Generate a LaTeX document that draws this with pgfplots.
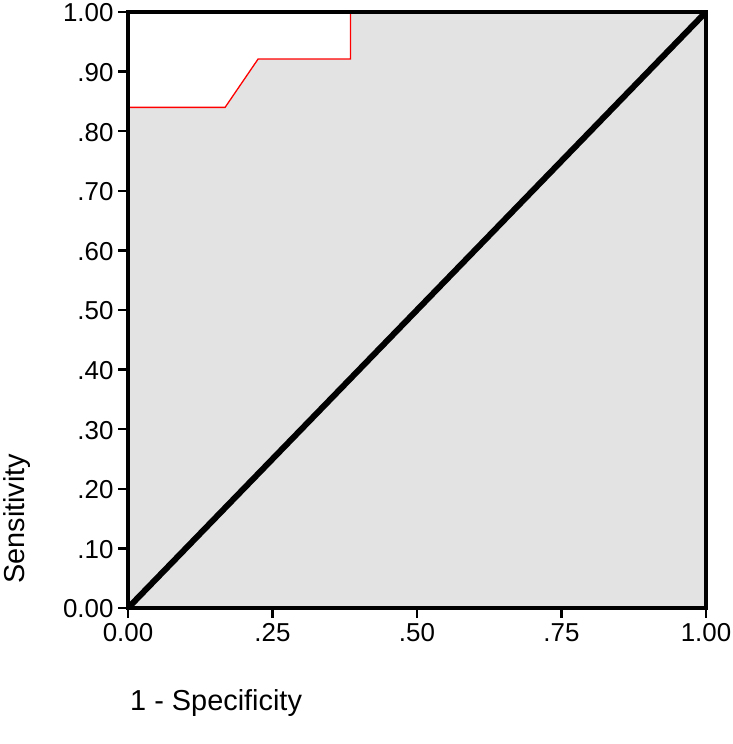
\documentclass[border=0pt]{standalone}
\usepackage{fontspec}
\setmainfont{Liberation Sans}
\usepackage{pgfplots}
\pgfplotsset{compat=1.18}

\begin{document}
\begin{tikzpicture}
\path[use as bounding box] (-128bp,-136bp) rectangle (605bp,608bp);
\begin{axis}[
    scale only axis,
    width=578bp, height=596bp,
    xmin=0, xmax=1, ymin=0, ymax=1,
    xtick={0,0.25,0.5,0.75,1},
    xticklabels={0.00,.25,.50,.75,1.00},
    ytick={0,0.1,0.2,0.3,0.4,0.5,0.6,0.7,0.8,0.9,1},
    yticklabels={0.00,.10,.20,.30,.40,.50,.60,.70,.80,.90,1.00},
    tick pos=left,
    tick align=outside,
    major tick length=10bp,
    every tick/.style={black, line width=2.5bp},
    axis line style={black, line width=3.5bp},
    tick label style={font=\fontsize{26}{30}\selectfont},
    xticklabel style={yshift=-2bp},
    yticklabel style={xshift=-1bp, yshift=-1bp},
    /pgf/number format/assume math mode=true,
    axis on top,
]
% area under the ROC curve
\addplot[draw=none, fill=black!11] coordinates {
    (0,0) (0,0.84) (0.168,0.84) (0.225,0.921) (0.385,0.921) (0.385,1) (1,1) (1,0)
} -- cycle;
% ROC curve
\addplot[red, line width=1.3bp] coordinates {
    (0,0.84) (0.168,0.84) (0.225,0.921) (0.385,0.921) (0.385,1)
};
% reference line
\addplot[black, line width=6bp, line cap=round] coordinates {(0,0) (1,1)};
\end{axis}
\node[rotate=90, anchor=north west, inner sep=0, font=\fontsize{29}{34}\selectfont] at (-125bp,24bp) {Sensitivity};
\node[anchor=west, inner sep=0, font=\fontsize{29}{34}\selectfont] at (2bp,-95bp) {1 - Specificity};
\end{tikzpicture}
\end{document}
